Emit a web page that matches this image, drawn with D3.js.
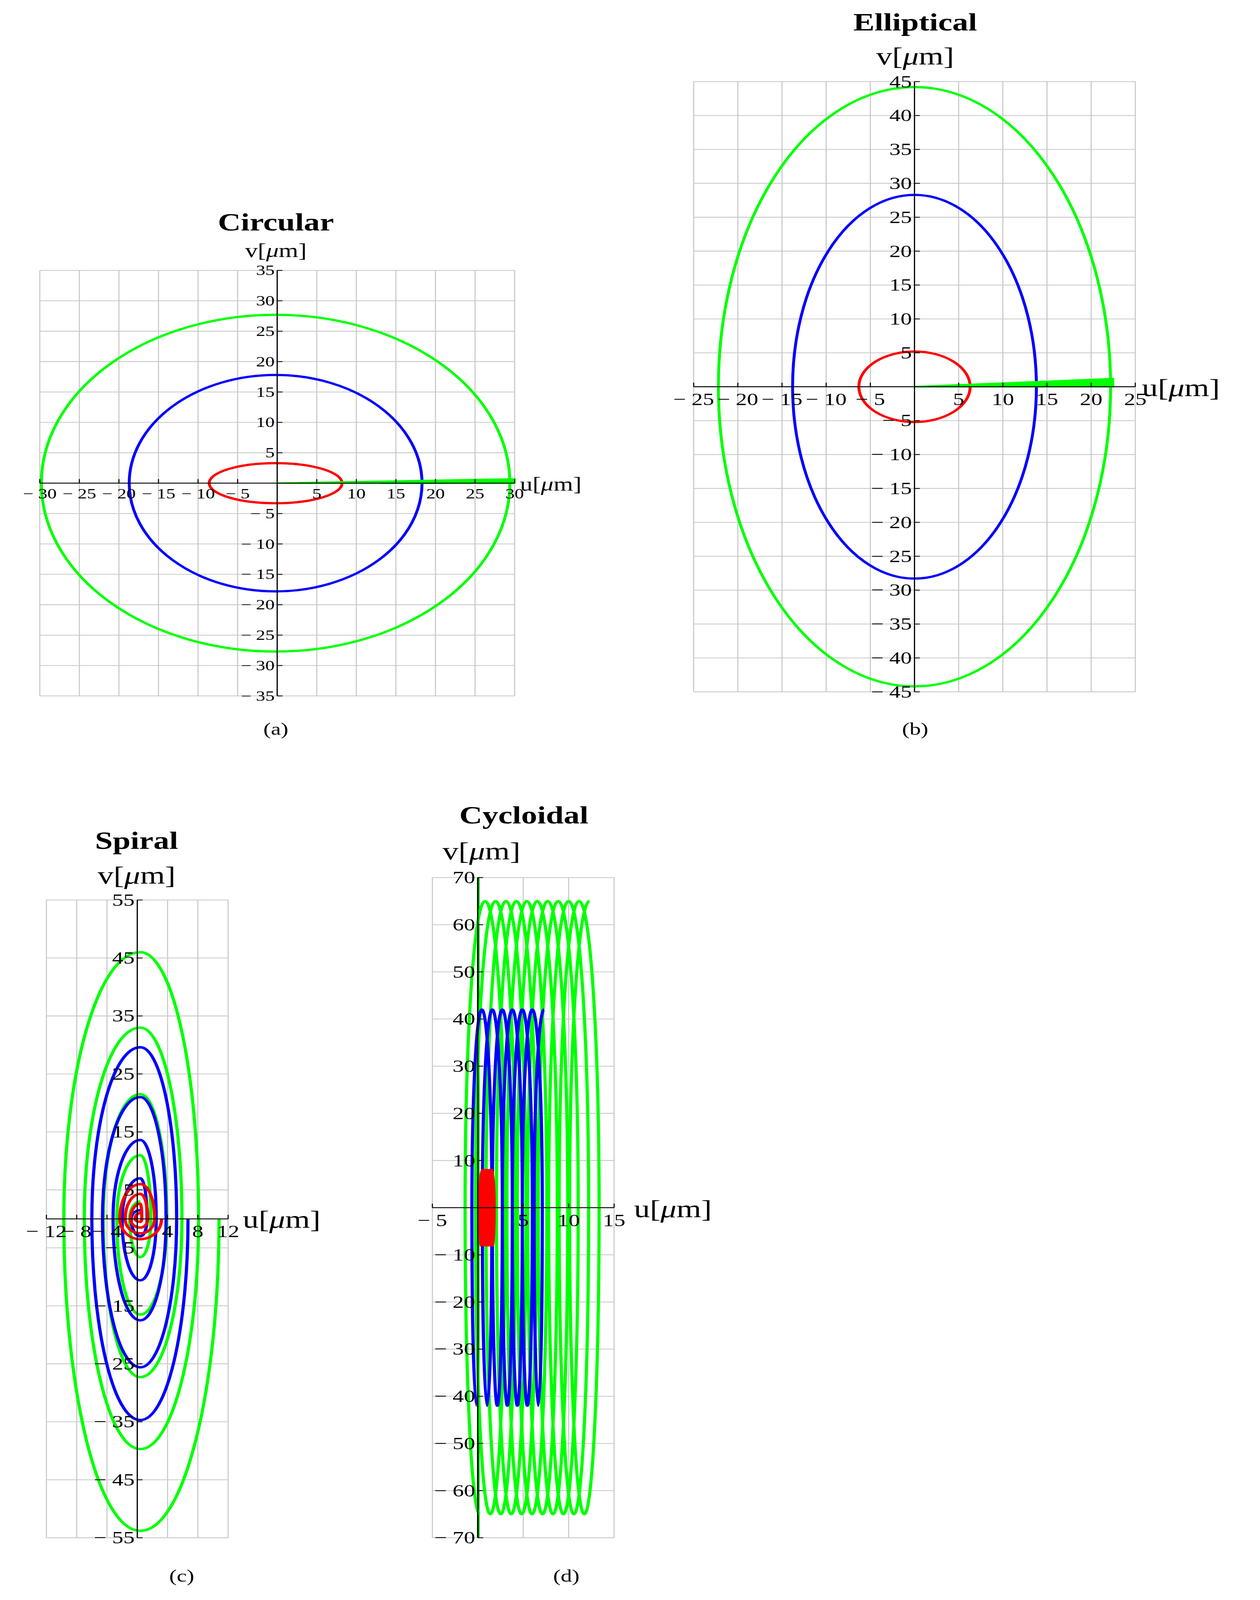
<!DOCTYPE html>
<html><head><meta charset="utf-8">
<script src="https://cdn.jsdelivr.net/npm/d3@7"></script>
<style>html,body{margin:0;background:#fff;overflow:hidden}svg{display:block}</style></head>
<body><svg id="c"></svg>
<script>
// ---------- data ----------
const ticksA_u=[-30,-25,-20,-15,-10,-5,5,10,15,20,25,30], ticksA_v=[-35,-30,-25,-20,-15,-10,-5,5,10,15,20,25,30,35];
const ticksB_u=[-25,-20,-15,-10,-5,5,10,15,20,25], ticksB_v=[-45,-40,-35,-30,-25,-20,-15,-10,-5,5,10,15,20,25,30,35,40,45];
const ticksC_u=[-12,-8,-4,4,8,12], ticksC_v=[-55,-45,-35,-25,-15,-5,5,15,25,35,45,55];
const ticksD_u=[-5,5,10,15], ticksD_v=[-70,-60,-50,-40,-30,-20,-10,10,20,30,40,50,60,70];
// ellipses [color, cu, cv, ru, rv]
const ellA=[["#f00",-0.2,0,8.4,3.3],["#00f",-0.2,0,18.5,17.8],["#0f0",-0.2,0,29.6,27.7]];
const tailA=[["#00f",13,0.1,21,0.3],["#0f0",0,0,30,0.7]];
const ellB=[["#f00",0,0,6.3,5.2],["#00f",0,0,13.8,28.3],["#0f0",0,0,22.2,44.2]];
const tailB=[["#00f",10,0.3,16,0.6],["#0f0",0,0,22.5,1.2]];
// spiral extremes per turn (outer to inner): right u, bottom v, left u, top v
const spGreenR=[10.8,8.1,5.9,3.9,1.8], spGreenB=[-53.8,-39.7,-27.3,-16.5,-6.6], spGreenL=[-9.7,-7,-4.5,-2.7,-1.0], spGreenT=[46,33,21.5,11,3];
const spBlueR=[6.7,5.2,3.8,2.5,1.3], spBlueB=[-34.7,-25.6,-17.5,-10.6,-3], spBlueL=[-6,-4.6,-3.2,-2,-0.8], spBlueT=[29.6,21,13.6,7,1.5];
const spRedR=[3.2,2.3,1.4,0.6], spRedB=[-3.5,-2.5,-1.5,-0.5], spRedL=[-2.3,-1.6,-0.9,-0.3], spRedT=[6,4.3,2.6,1];
// cycloid: top-peak u positions, amplitude, lateral swing
const cyGreenTops=[0.8,1.95,3.1,4.25,5.4,6.55,7.7,8.85,10.0,11.15,12.3], cyGreenAmp=65, cyGreenSwing=2.2;
const cyBlueTops=[0.45,1.6,2.7,3.8,4.9,6.0,7.3], cyBlueAmp=42, cyBlueSwing=1.1;
const cyRedTops=[0.5,0.7,0.9,1.1,1.3,1.5,1.7], cyRedAmp=8, cyRedSwing=0.3;

// ---------- drawing ----------
const W=950,H=1568;
const svg=d3.select("#c").attr("width","100vw").attr("height","100vh").attr("viewBox",`0 0 ${W} ${H}`).attr("preserveAspectRatio","none");
const F="Liberation Serif, DejaVu Serif, serif";
function lbl(n){return n<0?"\u2212 "+Math.abs(n):String(n);}
function panel(o){
  const g=svg.append("g");
  const x=d3.scaleLinear().domain(o.ud).range(o.xr), y=d3.scaleLinear().domain(o.vd).range(o.yr);
  const gu=o.gridU||o.tu, gv=o.gridV||o.tv;
  g.selectAll(".gu").data(gu.concat([0])).join("line").attr("x1",d=>x(d)).attr("x2",d=>x(d)).attr("y1",o.yr[0]).attr("y2",o.yr[1]).attr("stroke","#c8c8c8").attr("stroke-width",0.8);
  g.selectAll(".gv").data(gv.concat([0])).join("line").attr("y1",d=>y(d)).attr("y2",d=>y(d)).attr("x1",o.xr[0]).attr("x2",o.xr[1]).attr("stroke","#c8c8c8").attr("stroke-width",0.8);
  const content=g.append("g");
  const ax=g.append("g");
  ax.append("line").attr("x1",o.xr[0]).attr("x2",o.xr[1]).attr("y1",y(0)).attr("y2",y(0)).attr("stroke","#000").attr("stroke-width",0.9);
  ax.append("line").attr("x1",x(0)).attr("x2",x(0)).attr("y1",o.yr[0]).attr("y2",o.yr[1]).attr("stroke","#000").attr("stroke-width",0.9);
  ax.selectAll(".tu").data(o.tu).join("line").attr("x1",d=>x(d)).attr("x2",d=>x(d)).attr("y1",y(0)).attr("y2",y(0)-4).attr("stroke","#000").attr("stroke-width",0.8);
  ax.selectAll(".tv").data(o.tv).join("line").attr("y1",d=>y(d)).attr("y2",d=>y(d)).attr("x1",x(0)).attr("x2",x(0)+4).attr("stroke","#000").attr("stroke-width",0.8);
  const fs=o.fs||15;
  ax.selectAll(".lu").data(o.tu).join("text").attr("x",d=>x(d)).attr("y",y(0)+fs+1).attr("text-anchor","middle").attr("font-family",F).attr("font-size",fs).text(lbl);
  ax.selectAll(".lv").data(o.tv).join("text").attr("x",x(0)-2).attr("y",d=>y(d)+fs*0.33).attr("text-anchor","end").attr("font-family",F).attr("font-size",fs).text(lbl);
  g.append("text").attr("x",o.title[1]).attr("y",o.title[2]).attr("text-anchor","middle").attr("font-family",F).attr("font-weight","bold").attr("font-size",o.tfs||24).text(o.title[0]);
  const vl=g.append("text").attr("x",o.vl[0]).attr("y",o.vl[1]).attr("text-anchor","middle").attr("font-family",F).attr("font-size",o.lfs);
  vl.append("tspan").text("v["); vl.append("tspan").attr("font-style","italic").text("\u03bc"); vl.append("tspan").text("m]");
  const ul=g.append("text").attr("x",o.ul[0]).attr("y",o.ul[1]).attr("font-family",F).attr("font-size",o.lfs);
  ul.append("tspan").text("u["); ul.append("tspan").attr("font-style","italic").text("\u03bc"); ul.append("tspan").text("m]");
  g.append("text").attr("x",o.cap[1]).attr("y",o.cap[2]).attr("text-anchor","middle").attr("font-family",F).attr("font-size",17).text(o.cap[0]);
  return {x,y,g:content};
}
function ellipses(p,E,T){
  E.forEach(e=>p.g.append("ellipse").attr("cx",p.x(e[1])).attr("cy",p.y(e[2])).attr("rx",p.x(e[1]+e[3])-p.x(e[1])).attr("ry",p.y(e[2])-p.y(e[2]+e[4])).attr("fill","none").attr("stroke",e[0]).attr("stroke-width",2.2));
  T.forEach(t=>p.g.append("path").attr("d",`M${p.x(t[1])},${p.y(0)}L${p.x(t[3])},${p.y(t[4])}L${p.x(t[3])},${p.y(0)}Z`).attr("fill",t[0]).attr("stroke",t[0]).attr("stroke-width",1.5));
}
const K=0.5523;
function quarters(p,keys){
  const X=p.x,Y=p.y;
  let d=`M${X(keys[0][0])},${Y(keys[0][1])}`;
  for(let i=1;i<keys.length;i++){
    const a=keys[i-1], b=keys[i];
    const c1=a[2]==='h'?[a[0]+K*(b[0]-a[0]),a[1]]:[a[0],a[1]+K*(b[1]-a[1])];
    const c2=b[2]==='h'?[b[0]+K*(a[0]-b[0]),b[1]]:[b[0],b[1]+K*(a[1]-b[1])];
    d+=`C${X(c1[0])},${Y(c1[1])} ${X(c2[0])},${Y(c2[1])} ${X(b[0])},${Y(b[1])}`;
  }
  return d;
}
const pa=panel({ud:[-30,30],vd:[-35,35],xr:[30,388],yr:[682,265],tu:ticksA_u,tv:ticksA_v,title:["Circular",208,226],vl:[208,252],ul:[392,481],lfs:19,cap:["(a)",208,720],fs:14});
ellipses(pa,ellA,tailA);
const pb=panel({ud:[-25,25],vd:[-45,45],xr:[523,856],yr:[678,80],tu:ticksB_u,tv:ticksB_v,title:["Elliptical",690,30],vl:[690,63],ul:[861,388],lfs:24,cap:["(b)",690,720],fs:17});
ellipses(pb,ellB,tailB);
const pc=panel({ud:[-12,12],vd:[-55,55],xr:[35,172],yr:[1507,882],tu:ticksC_u,tv:ticksC_v,title:["Spiral",103,832],vl:[103,866],ul:[183,1203],lfs:24,cap:["(c)",137,1550],fs:17});
function spiral(p,R,B,L,T,col){
  const k=[[R[0],0,'v']];
  for(let i=0;i<R.length;i++){k.push([0.4,B[i],'h'],[L[i],0,'v'],[0.4,T[i],'h']); if(i+1<R.length)k.push([R[i+1],0,'v']);}
  p.g.append("path").attr("d",quarters(p,k)).attr("fill","none").attr("stroke",col).attr("stroke-width",2.4);
}
spiral(pc,spGreenR,spGreenB,spGreenL,spGreenT,"#0f0");
spiral(pc,spBlueR,spBlueB,spBlueL,spBlueT,"#00f");
spiral(pc,spRedR,spRedB,spRedL,spRedT,"#f00");
const pd=panel({ud:[-5,15],vd:[-70,70],xr:[326,463],yr:[1507,860],tu:ticksD_u,tv:ticksD_v,title:["Cycloidal",395,807],vl:[363,842],ul:[478,1193],lfs:24,cap:["(d)",427,1550],fs:17});
function cycloid(p,tops,A,s,col){
  const k=[];
  for(let i=0;i<tops.length;i++){
    const a=tops[i];
    if(i===0)k.push([a-(tops[1]-tops[0])/2,-A,'h'],[a-s,0,'v']);
    k.push([a,A,'h']);
    if(i+1<tops.length){const b=tops[i+1],m=(a+b)/2;k.push([a+s,0,'v'],[m,-A,'h'],[b-s,0,'v']);}
  }
  p.g.append("path").attr("d",quarters(p,k)).attr("fill","none").attr("stroke",col).attr("stroke-width",2.4);
}
pd.g.append("line").attr("x1",pd.x(0.05)).attr("x2",pd.x(0.05)).attr("y1",pd.y(-70)).attr("y2",pd.y(70)).attr("stroke","#0a0").attr("stroke-width",2);
cycloid(pd,cyGreenTops,cyGreenAmp,cyGreenSwing,"#0f0");
cycloid(pd,cyBlueTops,cyBlueAmp,cyBlueSwing,"#00f");
cycloid(pd,cyRedTops,cyRedAmp,cyRedSwing,"#f00");
</script></body></html>
